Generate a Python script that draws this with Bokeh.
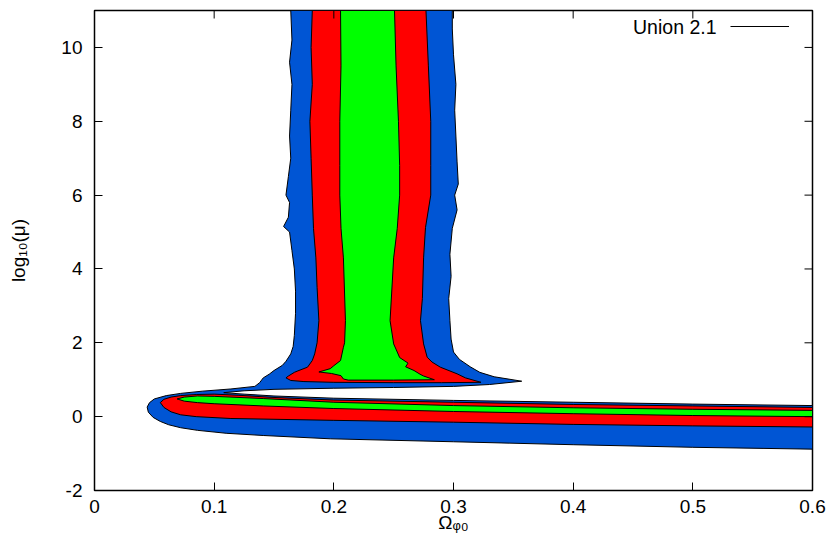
import math
from bokeh.plotting import figure
from bokeh.models import (FixedTicker, Label, Legend, LegendItem, Range1d)
from bokeh.embed import file_html
from bokeh.resources import INLINE

# ---------------- data ----------------
x_ticks = [0, 0.1, 0.2, 0.3, 0.4, 0.5, 0.6]
x_tick_labels = ["0", "0.1", "0.2", "0.3", "0.4", "0.5", "0.6"]
y_ticks = [-2, 0, 2, 4, 6, 8, 10]
y_tick_labels = ["-2", "0", "2", "4", "6", "8", "10"]
x_min, x_max = 0, 0.6
y_min, y_max = -2, 11
x_title = "\u03a9\u1d69\u2080"          # Omega_{phi 0}
y_title = "log\u2081\u2080(\u03bc)"     # log_10(mu)

# outer (blue) contour
blue_x = [0.164, 0.165, 0.163, 0.165, 0.164, 0.163, 0.164, 0.162, 0.160, 0.163, 0.162, 0.158, 0.163,
          0.165, 0.167, 0.168, 0.168, 0.167, 0.166, 0.164, 0.160, 0.157, 0.150, 0.146, 0.141, 0.138, 0.134,
          0.114, 0.090, 0.072, 0.060, 0.050, 0.046, 0.044, 0.045, 0.049, 0.055, 0.062, 0.072, 0.086,
          0.110, 0.141, 0.197, 0.30, 0.40, 0.50, 0.60,
          0.60, 0.50, 0.40, 0.30, 0.20, 0.15, 0.125, 0.108,
          0.125, 0.15, 0.20, 0.25, 0.30, 0.33, 0.357,
          0.334, 0.322, 0.314, 0.305, 0.300, 0.298, 0.297, 0.296, 0.298, 0.297, 0.299, 0.303, 0.301,
          0.304, 0.303, 0.302, 0.301, 0.302, 0.300, 0.299, 0.299]
blue_y = [11.0, 10.2, 9.6, 9.0, 8.3, 7.6, 7.0, 6.5, 6.0, 5.8, 5.4, 5.15, 5.0,
          4.5, 4.0, 3.4, 2.8, 2.2, 1.9, 1.70, 1.5, 1.39, 1.25, 1.15, 1.05, 0.92, 0.82,
          0.75, 0.69, 0.63, 0.57, 0.48, 0.38, 0.26, 0.12, -0.02, -0.13, -0.22, -0.30, -0.37,
          -0.45, -0.51, -0.60, -0.68, -0.76, -0.83, -0.88,
          0.30, 0.34, 0.39, 0.44, 0.50, 0.56, 0.61, 0.65,
          0.70, 0.74, 0.77, 0.79, 0.82, 0.87, 0.96,
          1.08, 1.20, 1.35, 1.55, 1.75, 2.1, 2.6, 3.2, 3.8, 4.4, 5.1, 5.6, 6.0,
          6.3, 6.9, 7.6, 8.3, 9.0, 9.8, 10.5, 11.0]

# middle (red) contour: vertical lobe and horizontal lobe
red_v_x = [0.182, 0.181, 0.182, 0.180, 0.181, 0.182, 0.183, 0.185, 0.186, 0.1875, 0.186, 0.184, 0.182,
           0.178, 0.170, 0.167, 0.162, 0.160, 0.164, 0.175,
           0.20, 0.25, 0.29, 0.323,
           0.310, 0.303, 0.289, 0.282, 0.278, 0.275, 0.2724, 0.274, 0.275, 0.2766, 0.281, 0.281, 0.281,
           0.279, 0.277]
red_v_y = [11.0, 10.0, 9.0, 8.0, 7.0, 6.0, 5.1, 4.3, 3.5, 2.6, 2.0, 1.7, 1.52,
           1.34, 1.24, 1.20, 1.10, 1.05, 0.98, 0.95,
           0.93, 0.92, 0.92, 0.93,
           1.05, 1.16, 1.34, 1.48, 1.61, 1.97, 2.6, 3.2, 4.3, 5.12, 6.0, 6.8, 8.0,
           9.5, 11.0]
red_h_x = [0.055, 0.058, 0.064, 0.072, 0.085, 0.100, 0.120, 0.15, 0.2, 0.3, 0.4, 0.5, 0.6,
           0.6, 0.5, 0.4, 0.3, 0.2, 0.114, 0.085, 0.072, 0.064, 0.058]
red_h_y = [0.38, 0.47, 0.53, 0.57, 0.60, 0.61, 0.58, 0.52, 0.45, 0.39, 0.33, 0.29, 0.25,
           -0.28, -0.25, -0.21, -0.15, -0.10, -0.05, 0.0, 0.05, 0.13, 0.25]

# inner (green) contour: vertical lobe and horizontal lobe
green_v_x = [0.2056, 0.206, 0.205, 0.205, 0.205, 0.206, 0.208, 0.2097, 0.209, 0.208, 0.2056, 0.200,
             0.197, 0.1875, 0.198, 0.206, 0.208, 0.212,
             0.25, 0.284,
             0.275, 0.272, 0.267, 0.260, 0.262, 0.255, 0.253, 0.250, 0.247, 0.250, 0.253, 0.255, 0.255,
             0.254, 0.252, 0.2507]
green_v_y = [11.0, 9.5, 8.0, 6.8, 6.0, 5.1, 4.3, 2.6, 2.0, 1.88, 1.52, 1.38,
             1.30, 1.21, 1.17, 1.11, 1.02, 0.99,
             0.99, 1.00,
             1.10, 1.15, 1.25, 1.35, 1.45, 1.6, 1.75, 1.97, 2.6, 4.3, 5.1, 6.0, 6.8,
             8.0, 9.5, 11.0]
green_h_x = [0.069, 0.075, 0.086, 0.100, 0.141, 0.2, 0.3, 0.4, 0.5, 0.6,
             0.6, 0.5, 0.4, 0.3, 0.2, 0.141, 0.100, 0.086, 0.075]
green_h_y = [0.48, 0.53, 0.56, 0.55, 0.49, 0.39, 0.30, 0.24, 0.20, 0.17,
             0.00, 0.03, 0.08, 0.14, 0.22, 0.29, 0.35, 0.38, 0.42]

legend_label = "Union 2.1"

# ---------------- figure ----------------
FONT = "Liberation Sans"
W, H = 831, 554
FL, FT, FW, FH = 94, 10, 718, 480   # frame left/top/width/height inside canvas
FB = FT + FH

p = figure(width=W, height=H, output_backend="svg", toolbar_location=None,
           x_range=Range1d(x_min, x_max), y_range=Range1d(y_min, y_max),
           min_border_left=FL, min_border_top=FT, min_border_right=W - FL - FW,
           min_border_bottom=H - FB)
p.grid.visible = False
p.outline_line_color = "black"
p.outline_line_width = 1.5
p.background_fill_color = "white"
p.border_fill_color = "white"

BLUE, RED, GREEN = "#0055d4", "#ff0000", "#00ff00"
p.patch(blue_x, blue_y, fill_color=BLUE, line_color=None)
p.patch(red_v_x, red_v_y, fill_color=RED, line_color=None)
p.patch(red_h_x, red_h_y, fill_color=RED, line_color=None)
p.patch(green_v_x, green_v_y, fill_color=GREEN, line_color=None)
p.patch(green_h_x, green_h_y, fill_color=GREEN, line_color=None)

def closed(a):
    return list(a) + [a[0]]

ml = p.multi_line(xs=[closed(blue_x), closed(red_v_x), closed(red_h_x), closed(green_v_x), closed(green_h_x)],
                  ys=[closed(blue_y), closed(red_v_y), closed(red_h_y), closed(green_v_y), closed(green_h_y)],
                  line_color="black", line_width=1)

def style_axis(ax, ticks, labels, standoff, title, title_standoff):
    ax.ticker = FixedTicker(ticks=ticks)
    ax.major_label_overrides = {t: l for t, l in zip(ticks, labels)}
    ax.minor_tick_line_color = None
    ax.major_tick_in = 8
    ax.major_tick_out = 0
    ax.major_tick_line_color = "black"
    ax.major_tick_line_width = 1
    ax.axis_line_color = None
    ax.major_label_text_font = FONT
    ax.major_label_text_color = "black"
    ax.major_label_text_font_size = "19px"
    ax.major_label_standoff = standoff
    ax.axis_label = title
    ax.axis_label_text_font = FONT
    ax.axis_label_text_font_size = "19px"
    ax.axis_label_text_font_style = "normal"
    ax.axis_label_text_color = "black"
    ax.axis_label_standoff = title_standoff

style_axis(p.xaxis[0], x_ticks, x_tick_labels, 9, x_title, -4)
style_axis(p.yaxis[0], y_ticks, y_tick_labels, 12, y_title, 29)

# mirrored ticks on top and right edges (gnuplot style)
p.ray(x=x_ticks, y=[y_max] * len(x_ticks), length=8, length_units="screen",
      angle=-math.pi / 2, line_color="black", line_width=1)
p.ray(x=[x_max] * len(y_ticks), y=y_ticks, length=8, length_units="screen",
      angle=math.pi, line_color="black", line_width=1)

# ---------------- key (inside the frame, top right) ----------------
p.add_layout(Label(x=716 - FL, y=FB - 26, x_units="screen", y_units="screen",
                   text=legend_label, text_font=FONT, text_font_size="19.5px", text_color="black",
                   text_align="right", text_baseline="middle"))
leg = Legend(items=[LegendItem(label=" ", renderers=[ml])],
             location=(730 - FL, FB - 26 - 10), glyph_width=59, glyph_height=20,
             label_width=0, label_standoff=0, padding=0, margin=0, spacing=0,
             label_text_font_size="1px", border_line_color=None, background_fill_alpha=0)
p.add_layout(leg, "center")

open("out.html", "w").write(file_html(p, INLINE))
